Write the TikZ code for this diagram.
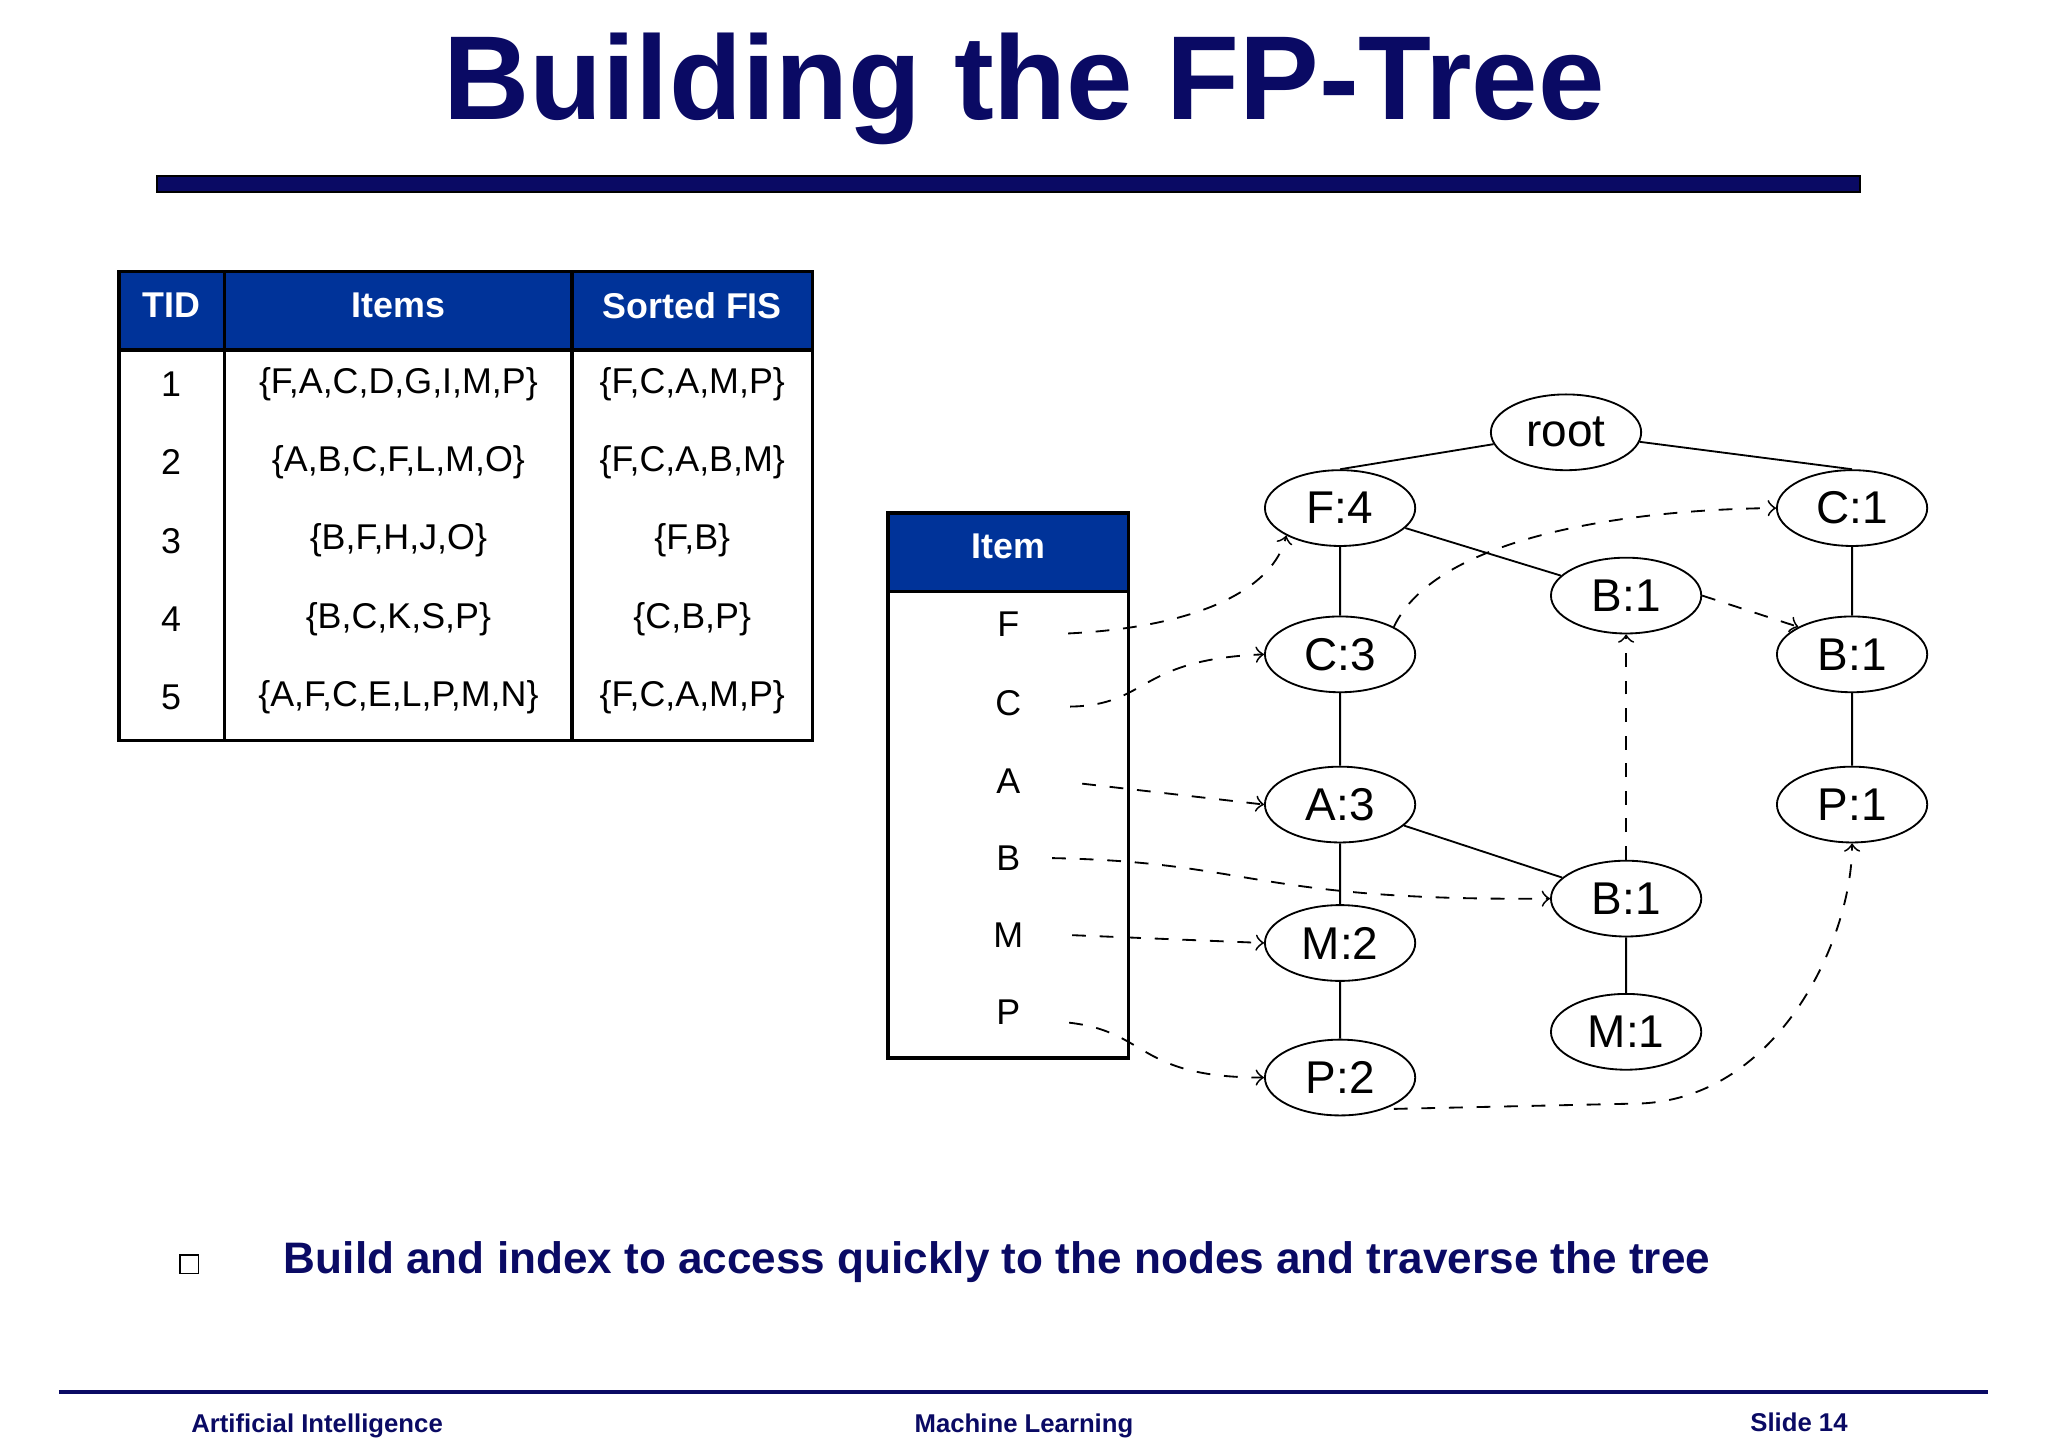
\documentclass[tikz,border=0pt]{standalone}
\usepackage{fontspec}
\setmainfont{Liberation Sans}
\usetikzlibrary{positioning,shapes.geometric}
\definecolor{navy}{RGB}{10,10,100}
\definecolor{hdrblue}{RGB}{0,51,153}
\begin{document}
\begin{tikzpicture}[x=0.01cm,y=-0.01cm]
        \tikzstyle{fpnode} = [draw, ellipse, minimum width=1.15cm, minimum height=0.58cm, inner sep=0pt, font=\fontsize{10}{12}\selectfont];
        \tikzstyle{cell} = [font=\fontsize{7.8}{9}\selectfont];
        \tikzstyle{hdr} = [font=\bfseries\fontsize{7.8}{9}\selectfont, white];
        \tikzstyle{link} = [dashed, ->, thin];
        \tikzstyle{footer} = [font=\bfseries\fontsize{5.6}{7}\selectfont, navy];
        \useasboundingbox (0,0) rectangle (1568,1110);
        % title
        \node [font=\bfseries\fontsize{26}{30}\selectfont, navy] (title) at (784,68) {Building the FP-Tree};
        \draw [fill=navy] (120,135) rectangle (1424,147);
        % transaction table
        \fill [hdrblue] (91,208) rectangle (622,268);
        \draw [thick] (91,208) rectangle (622,567);
        \draw [thick] (172,208) -- (172,567) (438,208) -- (438,567) (91,268) -- (622,268);
        \node [hdr] at (131,234) {TID};
        \node [hdr] at (305,234) {Items};
        \node [hdr] at (530,234) {Sorted FIS};
        \foreach \i/\items/\fis [count=\r] in {1/{\{F,A,C,D,G,I,M,P\}}/{\{F,C,A,M,P\}},
                2/{\{A,B,C,F,L,M,O\}}/{\{F,C,A,B,M\}}, 3/{\{B,F,H,J,O\}}/{\{F,B\}},
                4/{\{B,C,K,S,P\}}/{\{C,B,P\}}, 5/{\{A,F,C,E,L,P,M,N\}}/{\{F,C,A,M,P\}}} {
            \node [cell] at (131,234+60*\r) {\i};
            \node [cell] at (305,234+60*\r) {\items};
            \node [cell] at (530,234+60*\r) {\fis};
        }
        % header table
        \fill [hdrblue] (680,393) rectangle (864,453);
        \draw [thick] (680,393) rectangle (864,810);
        \draw [thick] (680,453) -- (864,453);
        \node [hdr] at (772,418) {Item};
        \node [cell] (iF) at (772,478) {F};
        \node [cell] (iC) at (772,538) {C};
        \node [cell] (iA) at (772,598) {A};
        \node [cell] (iB) at (772,657) {B};
        \node [cell] (iM) at (772,716) {M};
        \node [cell] (iP) at (772,775) {P};
        % tree
        \node [fpnode] (root) at (1199,331) {root};
        \node [fpnode] (f4) at (1026,389) {F:4};
        \node [fpnode] (c3) at (1026,501) {C:3};
        \node [fpnode] (a3) at (1026,616) {A:3};
        \node [fpnode] (m2) at (1026,722) {M:2};
        \node [fpnode] (p2) at (1026,825) {P:2};
        \node [fpnode] (b1a) at (1245,456) {B:1};
        \node [fpnode] (b1b) at (1245,688) {B:1};
        \node [fpnode] (m1) at (1245,790) {M:1};
        \node [fpnode] (c1) at (1418,389) {C:1};
        \node [fpnode] (b1c) at (1418,501) {B:1};
        \node [fpnode] (p1) at (1418,616) {P:1};
        \draw (root) -- (f4.north) (root) -- (c1.north) (f4) -- (c3) (f4) -- (b1a)
              (c3) -- (a3) (a3) -- (m2) (m2) -- (p2) (a3) -- (b1b) (b1b) -- (m1)
              (c1) -- (b1c) (b1c) -- (p1);
        % node links
        \draw [link] (iF.east) ++(25,7) .. controls (920,480) and (975,450) .. (f4.south west);
        \draw [link] (iC.east) ++(25,3) .. controls (880,540) and (870,505) .. (c3.west);
        \draw [link] (iA.east) ++(35,2) -- (a3.west);
        \draw [link] (iB.east) ++(12,0) .. controls (960,660) and (960,690) .. (b1b.west);
        \draw [link] (iM.east) ++(25,0) -- (m2.west);
        \draw [link] (iP.east) ++(25,8) .. controls (880,790) and (870,825) .. (p2.west);
        \draw [link] (c3.north east) .. controls (1100,410) and (1250,390) .. (c1.west);
        \draw [link] (b1a.east) -- (b1c.north west);
        \draw [link] (b1b.north) -- (b1a.south);
        \draw [link] (p2.south east) ++(0,3) -- (1250,845) .. controls (1360,845) and (1418,720) .. (p1.south);
        % bullet
        \draw (138,961) rectangle (152,975);
        \node [anchor=west, font=\bfseries\fontsize{9.6}{11}\selectfont, navy] (bullet) at (205,966) {Build and index to access quickly to the nodes and traverse the tree};
        % footer
        \draw [navy, thick] (45,1066) -- (1522,1066);
        \node [footer, anchor=west] at (134,1092) {Artificial Intelligence};
        \node [footer] at (784,1092) {Machine Learning};
        \node [footer, anchor=east] at (1427,1089) {Slide 14};
\end{tikzpicture}
\end{document}
